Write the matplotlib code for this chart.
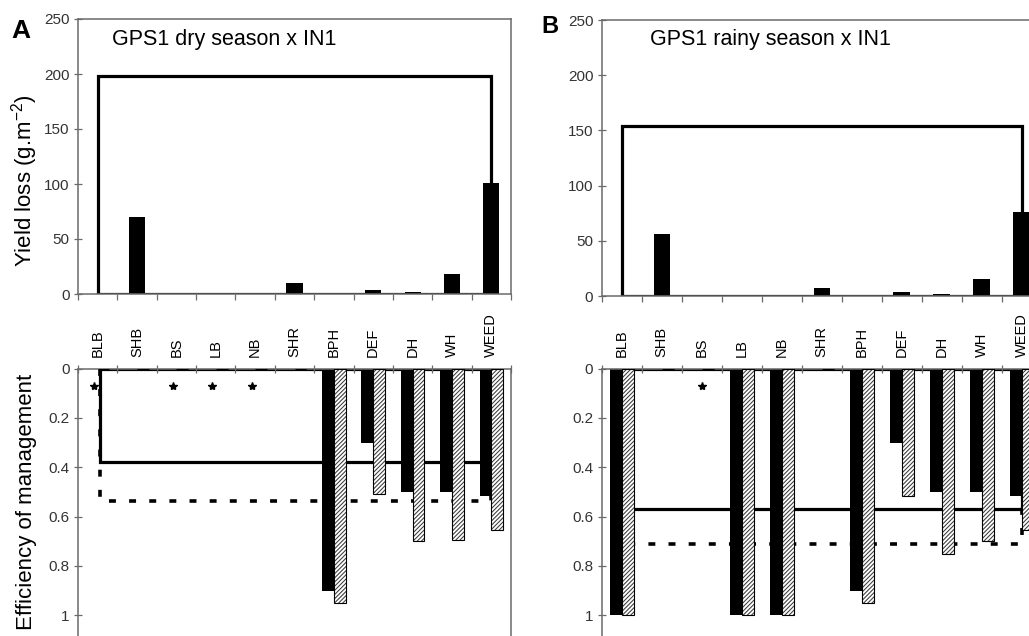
import matplotlib
matplotlib.use("Agg")
import matplotlib.pyplot as plt
import numpy as np

plt.rcParams['font.family'] = ['Liberation Sans', 'DejaVu Sans']
plt.rcParams['mathtext.default'] = 'regular'
plt.rcParams['lines.scale_dashes'] = False
plt.rcParams['hatch.linewidth'] = 0.75

categories = ["BLB", "SHB", "BS", "LB", "NB", "SHR", "BPH", "DEF", "DH", "WH", "WEED"]

# Panel A (dry season)
loss_A = [0, 70, 0, 0, 0, 10, 0.8, 3.5, 1.5, 18, 101]
total_A = 198
eff1_A = [0, 0, 0, 0, 0, 0, 0.90, 0.30, 0.50, 0.50, 0.515]
eff2_A = [0, 0, 0, 0, 0, 0, 0.95, 0.51, 0.70, 0.695, 0.655]
mean1_A = 0.38
mean2_A = 0.535
stars_A = [0, 2, 3, 4]

# Panel B (rainy season)
loss_B = [0, 56, 0, 0, 0, 7.5, 0.8, 4, 2, 15, 76]
total_B = 154
eff1_B = [1.0, 0, 0, 1.0, 1.0, 0, 0.90, 0.30, 0.50, 0.50, 0.515]
eff2_B = [1.0, 0, 0, 1.0, 1.0, 0, 0.95, 0.515, 0.75, 0.70, 0.655]
mean1_B = 0.57
mean2_B = 0.71
stars_B = [2]

titles = ["GPS1 dry season x IN1", "GPS1 rainy season x IN1"]
panel_letters = ["A", "B"]

W, H = 1029, 636
fig = plt.figure(figsize=(W / 100, H / 100), dpi=100)

SPINE = '#6a6a6a'
TICKC = '#333333'


def rect(left, top, right, bottom):
    return [left / W, 1 - bottom / H, (right - left) / W, (bottom - top) / H]


def draw_panel(xl, xr, ttop, tbot, loss, total, e1, e2, m1, m2, stars, star_dx, line_dx):
    n = len(categories)
    x = np.arange(n)
    # ---- top: yield loss
    ax = fig.add_axes(rect(xl, ttop, xr, tbot))
    ax.plot([0, 0, n - 1, n - 1, 0], [0, total, total, 0, 0], color='black', lw=2.3,
            zorder=1, solid_joinstyle='miter')
    ax.bar(x, loss, 0.41, color='black', zorder=2)
    ax.set_xlim(-0.5, n - 0.5)
    ax.set_ylim(0, 250)
    ax.set_yticks([0, 50, 100, 150, 200, 250])
    ax.set_xticks(np.arange(n + 1) - 0.5)
    ax.set_xticklabels([])
    ax.tick_params(axis='y', direction='inout', length=6, width=0.9, color=SPINE,
                   labelsize=11, labelcolor=TICKC, pad=3)
    ax.tick_params(axis='x', direction='out', length=4.5, width=0.9, color=SPINE)
    for s in ax.spines.values():
        s.set_color(SPINE)
        s.set_linewidth(1.1)
    # ---- bottom: efficiency
    bax = fig.add_axes(rect(xl, 368.7, xr, H))
    x0 = line_dx
    bax.plot([x0, x0, n - 1, n - 1, x0], [0, m1, m1, 0, 0], color='black', lw=2.3,
             zorder=1, solid_joinstyle='miter')
    bax.plot([x0, x0, n - 1, n - 1], [0, m2, m2, 0], color='black', lw=2.6,
             dashes=(5, 9.5), zorder=1)
    bax.bar(x - 0.15, e1, 0.3, color='black', zorder=2)
    bax.bar(x + 0.15, e2, 0.3, facecolor='white', edgecolor='#3a3a3a', hatch='////////',
            linewidth=0, zorder=2)
    bax.bar(x + 0.15, e2, 0.3, fill=False, edgecolor='black', linewidth=0.8, zorder=3)
    bax.plot([stars[i] + star_dx for i in range(len(stars))], [0.07] * len(stars),
             linestyle='none', marker='*', color='black', ms=6, zorder=4)
    bax.set_xlim(-0.5, n - 0.5)
    bax.set_ylim(1.0844, 0)
    bax.set_yticks([0, 0.2, 0.4, 0.6, 0.8, 1])
    bax.set_yticklabels(['0', '0.2', '0.4', '0.6', '0.8', '1'])
    bax.xaxis.tick_top()
    bax.set_xticks(np.arange(n + 1) - 0.5)
    bax.set_xticklabels([])
    bax.set_xticks(x, minor=True)
    bax.set_xticklabels(categories, minor=True, rotation=90)
    bax.tick_params(axis='x', which='major', direction='inout', length=6, width=0.9,
                    color=SPINE, top=True, bottom=False)
    bax.tick_params(axis='x', which='minor', length=0, pad=8.5, labelsize=10.5,
                    labeltop=True, labelbottom=False, top=True, bottom=False,
                    labelcolor='black')
    bax.tick_params(axis='y', direction='inout', length=6, width=0.9, color=SPINE,
                    labelsize=11, labelcolor=TICKC, pad=3)
    for s in bax.spines.values():
        s.set_color(SPINE)
        s.set_linewidth(1.1)
    bax.spines['bottom'].set_visible(False)
    return ax, bax


draw_panel(78, 511, 19, 294, loss_A, total_A, eff1_A, eff2_A, mean1_A, mean2_A,
           stars_A, -0.09, 0.07)
draw_panel(601.7, 1041.7, 20, 296, loss_B, total_B, eff1_B, eff2_B, mean1_B, mean2_B,
           stars_B, 0.0, 0.0)

fig.text(112 / W, 1 - 45 / H, titles[0], fontsize=15.5, va='baseline', ha='left')
fig.text(650 / W, 1 - 45 / H, titles[1], fontsize=15.5, va='baseline', ha='left')
fig.text(11 / W, 1 - 38 / H, panel_letters[0], fontsize=19, fontweight='bold',
         va='baseline', ha='left')
fig.text(541 / W, 1 - 33 / H, panel_letters[1], fontsize=17, fontweight='bold',
         va='baseline', ha='left')
fig.text(25 / W, 1 - 181 / H, 'Yield loss (g.m$^{-2}$)', fontsize=16, rotation=90,
         va='center', ha='center')
fig.text(27 / W, 1 - 502 / H, 'Efficiency of management', fontsize=16, rotation=90,
         va='center', ha='center')

fig.savefig('out.png', dpi=100)
